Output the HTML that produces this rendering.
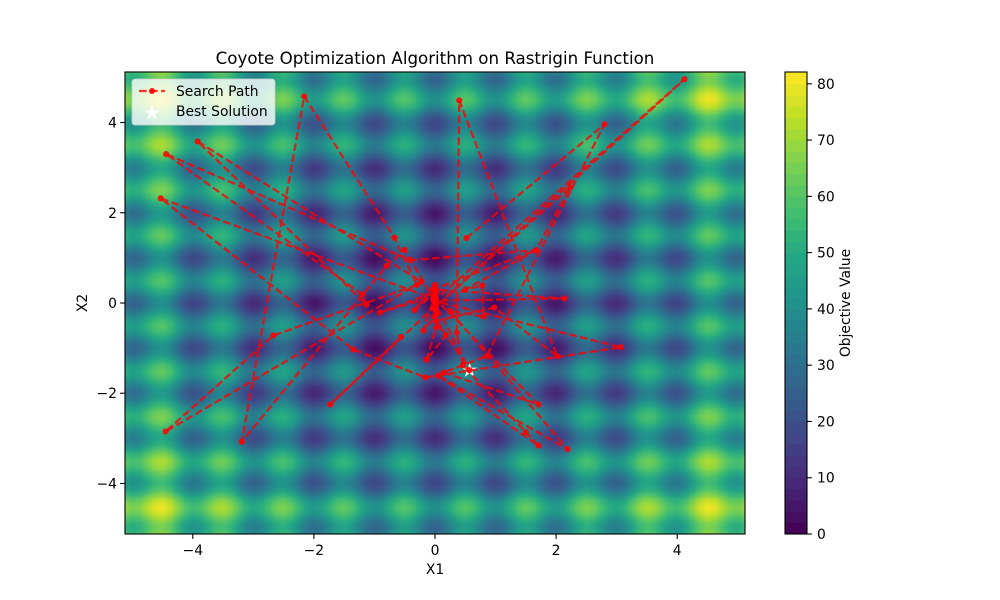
<!DOCTYPE html>
<html>
<head>
<meta charset="utf-8">
<title>Coyote Optimization Algorithm on Rastrigin Function</title>
<style>
html,body{margin:0;padding:0;background:#fff;}
svg{display:block;}
text{font-family:"DejaVu Sans","Liberation Sans",sans-serif;fill:#000;}
</style>
</head>
<body>
<svg id="chart" xmlns="http://www.w3.org/2000/svg" width="1000" height="600" viewBox="0 0 1000 600">
  <defs>
    <clipPath id="axes-clip"><rect x="125" y="72" width="620" height="462"/></clipPath>
    <filter id="soften" x="-5%" y="-5%" width="110%" height="110%" color-interpolation-filters="sRGB"><feGaussianBlur stdDeviation="2.6 2"/></filter>
  </defs>
  <rect x="0" y="0" width="1000" height="600" fill="#fff"/>
  <g clip-path="url(#axes-clip)">
    <g id="heatmap" filter="url(#soften)"></g>
    <g id="best-layer"></g>
    <g id="path-layer"></g>
  </g>
  <rect x="125" y="72" width="620" height="462" fill="none" stroke="#000" stroke-width="1.1"/>
  <g id="x-axis"></g>
  <g id="y-axis"></g>
  <text x="435" y="64" font-size="16.67" text-anchor="middle">Coyote Optimization Algorithm on Rastrigin Function</text>
  <text x="435" y="574" font-size="13.89" text-anchor="middle">X1</text>
  <text transform="translate(87,303) rotate(-90)" font-size="13.89" text-anchor="middle">X2</text>

  <g>
    <rect x="132" y="79" width="143" height="46" rx="3" ry="3" fill="#fff" fill-opacity="0.8" stroke="#ccc" stroke-opacity="0.8" stroke-width="1"/>
    <g>
      <line x1="139" y1="91" x2="165" y2="91" stroke="#ff0000" stroke-opacity="0.8" stroke-width="2.2" stroke-dasharray="7.7 3.33"/>
      <circle cx="152" cy="91" r="3" fill="#ff0000" fill-opacity="0.9"/>
      <text x="176" y="96" font-size="13.89">Search Path</text>
    </g>
    <g>
      <path id="legend-star" fill="#fff"/>
      <text x="176" y="116" font-size="13.89">Best Solution</text>
    </g>
  </g>

  <g id="colorbar"></g>
  <rect x="785" y="72" width="22" height="462" fill="none" stroke="#000" stroke-width="1.1"/>
  <g id="colorbar-axis"></g>
  <text transform="translate(850,303) rotate(-90)" font-size="13.89" text-anchor="middle">Objective Value</text>
</svg>
<script>
// Surface samples: x, one-dimensional Rastrigin term at each x (the surface is separable)
const gridPositive = [0,0.125,0.25,0.375,0.5,0.625,0.75,0.875,1,1.125,1.25,1.375,1.5,1.625,1.75,1.875,2,2.125,2.25,2.375,2.5,2.625,2.75,2.875,3,3.125,3.25,3.375,3.5,3.625,3.75,3.875,4,4.125,4.25,4.375,4.5,4.625,4.75,4.875,5,5.125,5.25];
const profilePositive = [-10,-7.06,0.06,7.21,10.25,7.46,0.56,-6.31,-9,-5.81,1.56,8.96,12.25,9.71,3.06,-3.56,-6,-2.56,5.06,12.71,16.25,13.96,7.56,1.19,-1,2.69,10.56,18.46,22.25,20.21,14.06,7.94,6,9.94,18.06,26.21,30.25,28.46,22.56,16.69,15,19.19,27.56];
const surfaceOffset = 20;

// Search path
const pathX = [0.52,2.80,0.85,0.14,1.71,0.02,4.12,-0.02,2.23,1.67,-0.41,-4.44,-1.20,-1.13,-3.92,-0.22,-4.45,-2.67,-0.30,-0.67,-2.16,-3.19,-0.80,-0.50,-0.03,-4.53,-1.35,-0.16,3.07,-0.02,2.14,-0.03,1.67,0.50,0.78,0.80,0.25,2.19,0.05,1.71,1.50,0.46,0.36,0.40,2.02,0.98,0.01,0.18,-0.14,0.02,0.03,-0.19,-0.01,-0.91,0.02,-0.34,0.00,-0.02,0.01,-0.01,0.00,0.02,-0.01,0.57,0.02,-1.73,-0.56];
const pathY = [1.44,3.96,-1.18,-1.54,-2.25,0.08,4.96,-0.12,2.56,1.17,0.95,3.30,0.19,-0.04,3.58,0.47,-2.85,-0.72,0.40,1.45,4.58,-3.07,0.82,1.18,0.10,2.32,-1.03,-1.65,-0.98,0.05,0.10,0.30,1.17,0.30,0.39,-0.30,-0.18,-3.24,-1.61,-3.16,-2.86,-1.38,-0.66,4.49,-1.18,-0.10,-0.40,-0.72,-1.26,-0.55,-0.25,-0.61,0.15,-0.21,0.25,-0.16,0.40,0.32,0.20,0.02,-0.10,-0.20,-0.30,-1.49,-0.05,-2.25,-0.75];
const bestX = [0.57];
const bestY = [-1.49];

// Axes
const xTicks = [-4,-2,0,2,4];
const yTicks = [-4,-2,0,2,4];
const colorTicks = [0,10,20,30,40,50,60,70,80];
const colorMax = [82.1];
const colorBandStep = [2];

const xDomain = [-5.12,5.12], yDomain = [-5.12,5.12];
const plotL = 125, plotR = 745, plotT = 72, plotB = 534;
const sx = v => plotL + (v - xDomain[0]) / (xDomain[1] - xDomain[0]) * (plotR - plotL);
const sy = v => plotB - (v - yDomain[0]) / (yDomain[1] - yDomain[0]) * (plotB - plotT);
const sc = v => plotB - v / colorMax[0] * (plotB - plotT);

const viridis = [[68,1,84],[72,36,117],[65,68,135],[53,95,141],[42,120,142],[33,145,140],[34,168,132],[68,191,112],[122,209,81],[189,223,38],[253,231,37]];
function colorOf(v){
  const t = Math.max(0, Math.min(0.9999, v / colorMax[0])) * (viridis.length - 1);
  const i = Math.floor(t), f = t - i;
  const a = viridis[i], b = viridis[i + 1];
  return 'rgb(' + [0,1,2].map(k => Math.round(a[k] + (b[k] - a[k]) * f)).join(',') + ')';
}
const NS = 'http://www.w3.org/2000/svg';
function make(tag, attrs, parent){
  const el = document.createElementNS(NS, tag);
  for (const k in attrs) el.setAttribute(k, attrs[k]);
  parent.appendChild(el);
  return el;
}
function starPath(cx, cy, R){
  const r = R * 0.382;
  let d = '';
  for (let i = 0; i < 10; i++){
    const rad = i % 2 ? r : R;
    const a = -Math.PI / 2 + i * Math.PI / 5;
    d += (i ? 'L' : 'M') + (cx + rad * Math.cos(a)).toFixed(2) + ' ' + (cy + rad * Math.sin(a)).toFixed(2);
  }
  return d + 'Z';
}
const fmt = v => String(v).replace('-', '\u2212');

// Heatmap
const gridFull = gridPositive.slice(1).reverse().map(v => -v).concat(gridPositive);
const profileFull = profilePositive.slice(1).reverse().concat(profilePositive);
const heat = document.getElementById('heatmap');
const gridStep = gridPositive[1] - gridPositive[0];
const cellW = Math.abs(sx(gridStep) - sx(0)), cellH = Math.abs(sy(gridStep) - sy(0));
gridFull.forEach((gx, i) => {
  gridFull.forEach((gy, j) => {
    const value = surfaceOffset + profileFull[i] + profileFull[j];
    const cell = make('rect', {x: (sx(gx) - cellW / 2).toFixed(2), y: (sy(gy) - cellH / 2).toFixed(2), width: (cellW + 0.6).toFixed(2), height: (cellH + 0.6).toFixed(2), fill: colorOf(value)}, heat);
    
    
  });
});

// Best solution star
const bestStar = make('path', {d: starPath(sx(bestX[0]), sy(bestY[0]), 8), fill: '#fff'}, document.getElementById('best-layer'));


document.getElementById('legend-star').setAttribute('d', starPath(152, 113, 8));

// Search path
const pathLayer = document.getElementById('path-layer');
const polyPoints = pathX.map((x, i) => sx(x).toFixed(2) + ',' + sy(pathY[i]).toFixed(2)).join(' ');
const pathLine = make('polyline', {points: polyPoints, fill: 'none', stroke: '#ff0000', 'stroke-opacity': 0.78, 'stroke-width': 2.3, 'stroke-dasharray': '7.7 3.33'}, pathLayer);


pathX.forEach((x, i) => {
  const dot = make('circle', {cx: sx(x).toFixed(2), cy: sy(pathY[i]).toFixed(2), r: 3.1, fill: '#ff0000', 'fill-opacity': 0.85}, pathLayer);
  
  
});

// X ticks
const xAxis = document.getElementById('x-axis');
xTicks.forEach(t => {
  const tick = make('line', {x1: sx(t), x2: sx(t), y1: plotB, y2: plotB + 4.9, stroke: '#000', 'stroke-width': 1.1}, xAxis);
  
  
  const label = make('text', {x: sx(t), y: 555, 'font-size': 13.89, 'text-anchor': 'middle'}, xAxis);
  
  
  label.textContent = fmt(t);
});

// Y ticks
const yAxis = document.getElementById('y-axis');
yTicks.forEach(t => {
  const tick = make('line', {x1: plotL - 4.9, x2: plotL, y1: sy(t), y2: sy(t), stroke: '#000', 'stroke-width': 1.1}, yAxis);
  
  
  const label = make('text', {x: plotL - 8, y: sy(t) + 5, 'font-size': 13.89, 'text-anchor': 'end'}, yAxis);
  
  
  label.textContent = fmt(t);
});

// Colorbar
const cbar = document.getElementById('colorbar');
for (let v = 0; v < colorMax[0]; v += colorBandStep[0]){
  const top = Math.min(v + colorBandStep[0], colorMax[0]);
  const band = make('rect', {x: 785, y: sc(top).toFixed(2), width: 22, height: (sc(v) - sc(top) + 0.5).toFixed(2), fill: colorOf((v + top) / 2)}, cbar);
  
  
}
const cbAxis = document.getElementById('colorbar-axis');
colorTicks.forEach(t => {
  const tick = make('line', {x1: 807, x2: 811.9, y1: sc(t), y2: sc(t), stroke: '#000', 'stroke-width': 1.1}, cbAxis);
  
  
  const label = make('text', {x: 817, y: sc(t) + 5, 'font-size': 13.89}, cbAxis);
  
  
  label.textContent = fmt(t);
});
</script>
</body>
</html>
